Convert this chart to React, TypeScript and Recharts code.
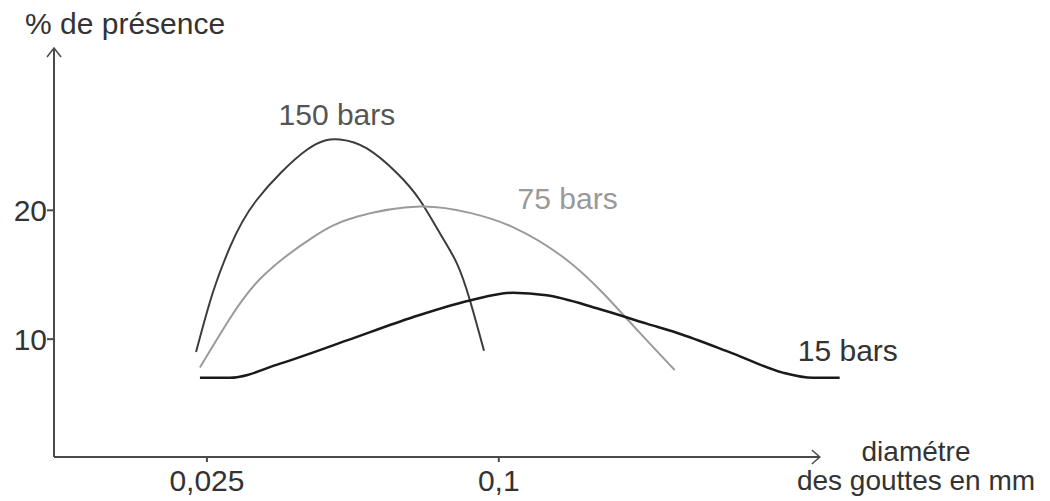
import { LineChart, Line, XAxis, YAxis, ReferenceLine, ReferenceDot } from 'recharts';

const FONT = '"Liberation Sans", Arial, sans-serif';

const X_MIN = -0.0143;
const X_MAX = 0.19;
const X_ARROW = 0.1825;
const Y_MIN = 0.85;
const Y_MAX = 32.6;

const xTicks = [0.025, 0.1];
const yTicks = [10, 20];

// diamètre (mm) / % de présence
const bars150 = [
  { d: 0.0222, p: 9.0 },
  { d: 0.0265, p: 13.6 },
  { d: 0.031, p: 17.2 },
  { d: 0.0378, p: 20.8 },
  { d: 0.0507, p: 24.7 },
  { d: 0.0592, p: 25.5 },
  { d: 0.0661, p: 24.8 },
  { d: 0.0738, p: 22.9 },
  { d: 0.0797, p: 20.8 },
  { d: 0.0849, p: 18.2 },
  { d: 0.0892, p: 15.9 },
  { d: 0.0926, p: 13.0 },
  { d: 0.0962, p: 9.1 },
];

const bars75 = [
  { d: 0.0232, p: 7.8 },
  { d: 0.0309, p: 11.6 },
  { d: 0.0394, p: 14.9 },
  { d: 0.0522, p: 17.9 },
  { d: 0.0635, p: 19.5 },
  { d: 0.0797, p: 20.3 },
  { d: 0.0926, p: 19.8 },
  { d: 0.1036, p: 18.7 },
  { d: 0.1164, p: 16.4 },
  { d: 0.1267, p: 13.6 },
  { d: 0.1362, p: 10.5 },
  { d: 0.1452, p: 7.6 },
];

const bars15 = [
  { d: 0.0232, p: 7.0 },
  { d: 0.0309, p: 7.0 },
  { d: 0.0438, p: 8.1 },
  { d: 0.061, p: 9.9 },
  { d: 0.0779, p: 11.7 },
  { d: 0.0926, p: 13.0 },
  { d: 0.1036, p: 13.6 },
  { d: 0.1123, p: 13.4 },
  { d: 0.1252, p: 12.4 },
  { d: 0.138, p: 11.2 },
  { d: 0.1457, p: 10.5 },
  { d: 0.1601, p: 8.9 },
  { d: 0.173, p: 7.4 },
  { d: 0.1807, p: 7.0 },
  { d: 0.1876, p: 7.0 },
];

const AXIS_COLOR = '#4a4a4a';

const ArrowAxis = (props: any) => {
  const { x1, y1, x2, y2 } = props;
  const horizontal = Math.abs(y2 - y1) < Math.abs(x2 - x1);
  const head = horizontal
    ? `M${x2 - 8},${y2 - 7} L${x2},${y2} L${x2 - 8},${y2 + 7}`
    : `M${x2 - 7},${y2 + 9} L${x2},${y2} L${x2 + 7},${y2 + 9}`;
  return (
    <g>
      <line x1={x1} y1={y1} x2={x2} y2={y2} stroke={AXIS_COLOR} strokeWidth={2} />
      <path d={head} fill="none" stroke={AXIS_COLOR} strokeWidth={1.5} />
    </g>
  );
};

const XTitle = ({ viewBox }: any) => {
  const { x, y, width } = viewBox;
  const cx = x + width + 67;
  return (
    <text textAnchor="middle" fontSize={28} fill="#333" fontFamily={FONT}>
      <tspan x={cx} y={y + 4}>diamétre</tspan>
      <tspan x={cx} y={y + 33}>des gouttes en mm</tspan>
    </text>
  );
};

const YTitle = ({ viewBox }: any) => (
  <text x={viewBox.x + 25} y={viewBox.y - 14} fontSize={30} fill="#333" fontFamily={FONT}>
    % de présence
  </text>
);

const tickStyle = { fontSize: 30, fill: '#333', fontFamily: FONT };

export default function App() {
  return (
    <div style={{ position: 'absolute', left: 0, top: 0, background: '#fff' }}>
      <LineChart width={1050} height={501} margin={{ top: 48, right: 201, bottom: 0, left: 0 }}>
        <XAxis
          type="number"
          dataKey="d"
          domain={[X_MIN, X_MAX]}
          allowDataOverflow
          ticks={xTicks}
          tickFormatter={(v: number) => String(v).replace('.', ',')}
          axisLine={false}
          tickLine={{ stroke: AXIS_COLOR, strokeWidth: 2 }}
          tickSize={5}
          tickMargin={8}
          tick={tickStyle}
          height={44}
          label={{ content: XTitle }}
        />
        <YAxis
          type="number"
          domain={[Y_MIN, Y_MAX]}
          allowDataOverflow
          ticks={yTicks}
          axisLine={false}
          tickLine={{ stroke: AXIS_COLOR, strokeWidth: 2 }}
          tickSize={7}
          tickMargin={0}
          tick={tickStyle}
          width={54}
          label={{ content: YTitle }}
        />
        <ReferenceLine
          segment={[{ x: X_MIN, y: Y_MIN }, { x: X_ARROW, y: Y_MIN }]}
          ifOverflow="visible"
          shape={ArrowAxis}
        />
        <ReferenceLine
          segment={[{ x: X_MIN, y: Y_MIN }, { x: X_MIN, y: Y_MAX }]}
          ifOverflow="visible"
          shape={ArrowAxis}
        />
        <Line data={bars150} dataKey="p" type="natural" stroke="#3c3c3c" strokeWidth={2} dot={false} isAnimationActive={false} />
        <Line data={bars75} dataKey="p" type="natural" stroke="#9a9a9a" strokeWidth={2} dot={false} isAnimationActive={false} />
        <Line data={bars15} dataKey="p" type="monotone" stroke="#1a1a1a" strokeWidth={2.5} dot={false} isAnimationActive={false} />
        <ReferenceDot x={0.0584} y={27.44} r={0} fill="none" stroke="none" ifOverflow="visible"
          label={{ value: '150 bars', position: 'center', fontSize: 30, fill: '#555', fontFamily: FONT }} />
        <ReferenceDot x={0.1177} y={20.93} r={0} fill="none" stroke="none" ifOverflow="visible"
          label={{ value: '75 bars', position: 'center', fontSize: 30, fill: '#999', fontFamily: FONT }} />
        <ReferenceDot x={0.1897} y={9.15} r={0} fill="none" stroke="none" ifOverflow="visible"
          label={{ value: '15 bars', position: 'center', fontSize: 30, fill: '#333', fontFamily: FONT }} />
      </LineChart>
    </div>
  );
}
